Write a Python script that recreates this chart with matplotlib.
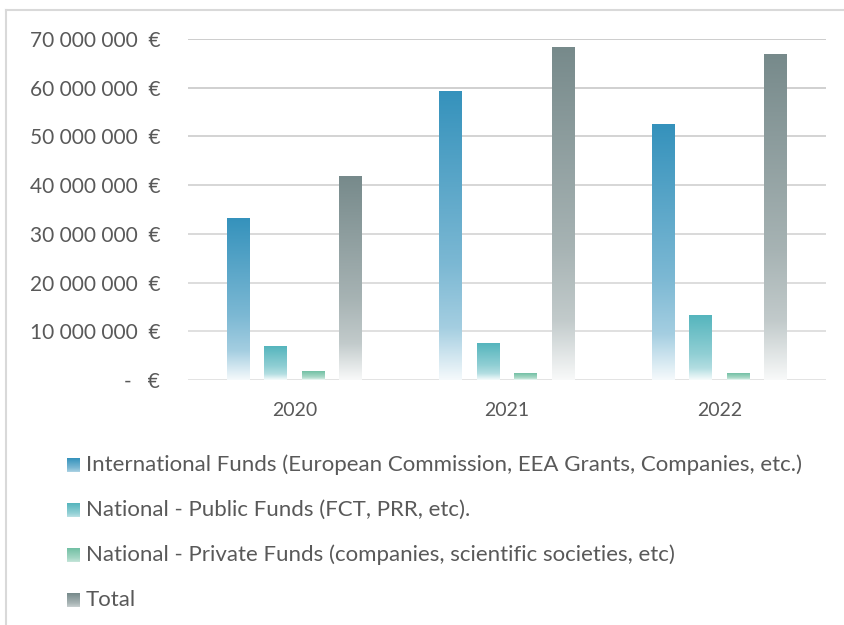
import numpy as np
import matplotlib
matplotlib.use("Agg")
import matplotlib.pyplot as plt
from matplotlib.colors import LinearSegmentedColormap, to_rgb
from matplotlib.lines import Line2D

plt.rcParams["font.family"] = ["Lato", "DejaVu Sans"]

years = ["2020", "2021", "2022"]
series = [
    "International Funds (European Commission, EEA Grants, Companies, etc.)",
    "National - Public Funds (FCT, PRR, etc).",
    "National - Private Funds (companies, scientific societies, etc)",
    "Total",
]
international = [33.1e6, 59.3e6, 52.4e6]
public = [6.8e6, 7.4e6, 13.3e6]
private = [1.8e6, 1.4e6, 1.4e6]
total = [41.7e6, 68.2e6, 66.9e6]
values = [international, public, private, total]
colors = ["#3592bc", "#55b5bd", "#72c0a4", "#778a8b"]
yticks = [0, 10e6, 20e6, 30e6, 40e6, 50e6, 60e6, 70e6]

TXT = "#595959"


def fade(c):
    c = np.array(to_rgb(c))
    w = np.ones(3)
    # top = full colour, lighter towards bottom, almost white at base
    stops = [(0.0, c), (0.6, c * 0.65 + w * 0.35), (0.82, c * 0.45 + w * 0.55),
             (1.0, c * 0.05 + w * 0.95)]
    return LinearSegmentedColormap.from_list("f", [(p, tuple(col)) for p, col in stops])


fig = plt.figure(figsize=(8.44, 6.25), dpi=100)
ax = fig.add_axes([188 / 844, 1 - 380 / 625, (826 - 188) / 844, (380 - 39) / 625])

# gridlines, darker at the top
for i, t in enumerate(yticks):
    g = 0.88 - 0.09 * i / 7
    ax.axhline(t, color=(g, g, g), lw=1.3, zorder=0)

grad = np.linspace(0, 1, 256).reshape(-1, 1)
width, step = 0.108, 0.176
for s, (vals, col) in enumerate(zip(values, colors)):
    cmap = fade(col)
    for i, v in enumerate(vals):
        x0 = i + (s - 1.5) * step - width / 2
        ax.imshow(grad, cmap=cmap, aspect="auto", extent=[x0, x0 + width, 0, v],
                  origin="upper", zorder=2, interpolation="bilinear")
ax.set_xlim(-0.5, 2.5)
ax.set_ylim(0, 70e6)

for sp in ax.spines.values():
    sp.set_visible(False)
ax.set_xticks(range(3))
ax.set_xticklabels(years)
ax.set_yticks(yticks)
ax.set_yticklabels(["-   €"] + [f"{int(t):,}".replace(",", " ") + "  €" for t in yticks[1:]])
ax.tick_params(length=0, colors=TXT)
ax.tick_params(axis="y", pad=20, labelsize=15)
ax.tick_params(axis="x", pad=16, labelsize=14)

# legend, one entry per row below the plot
for k, (name, col) in enumerate(zip(series, colors)):
    y = 465 + 45 * k
    cmap = fade(col)
    lax = fig.add_axes([67 / 844, 1 - (y + 7) / 625, 13 / 844, 14 / 625])
    lax.imshow(np.linspace(0, 0.85, 64).reshape(-1, 1), cmap=cmap, aspect="auto",
               vmin=0, vmax=1)
    lax.axis("off")
    fig.text(86 / 844, 1 - y / 625, name, fontsize=16, color=TXT, va="center")

# chart border
fig.add_artist(Line2D([6 / 844, 1], [1 - 10 / 625] * 2, color="#d9d9d9", lw=1.5))
fig.add_artist(Line2D([6 / 844] * 2, [0, 1 - 10 / 625], color="#d9d9d9", lw=1.5))

fig.savefig("out.png", dpi=100)
